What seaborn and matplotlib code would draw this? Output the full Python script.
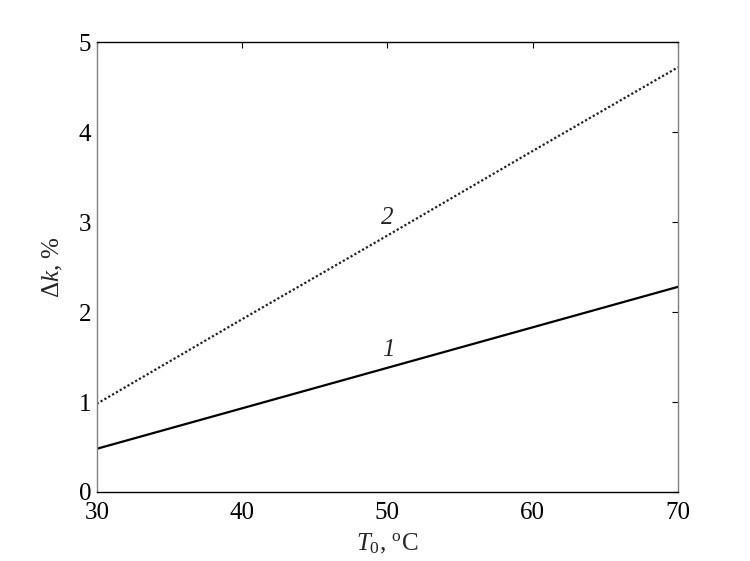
import matplotlib
matplotlib.use("Agg")
import matplotlib.pyplot as plt
import seaborn as sns
import pandas as pd

# values
temps = [30, 40, 50, 60, 70]
dk_curve1 = [0.48, 0.93, 1.38, 1.83, 2.28]
dk_curve2 = [0.98, 1.92, 2.85, 3.79, 4.72]
curve_names = ["1", "2"]
x_ticks = [30, 40, 50, 60, 70]
y_ticks = [0, 1, 2, 3, 4, 5]

df = pd.DataFrame({
    "T0": temps * 2,
    "dk": dk_curve1 + dk_curve2,
    "curve": [curve_names[0]] * len(temps) + [curve_names[1]] * len(temps),
})

sns.set_theme(style="white")
plt.rcParams["font.family"] = ["Liberation Serif", "DejaVu Serif"]
plt.rcParams["mathtext.fontset"] = "custom"
plt.rcParams["mathtext.rm"] = "Liberation Serif"
plt.rcParams["mathtext.it"] = "Liberation Serif:italic"

fig = plt.figure(figsize=(7.5, 5.61), dpi=100)
ax = fig.add_axes([0.129, 0.123, 0.775, 0.802])

sns.lineplot(data=df, x="T0", y="dk", hue="curve", style="curve",
             palette=["black", "#222222"], dashes={"1": "", "2": (1, 1)},
             linewidth=1.6, legend=False, ax=ax)

ax.text(50.1, 1.58, curve_names[0], fontsize=18, style="italic",
        ha="center", va="center")
ax.text(50.0, 3.04, curve_names[1], fontsize=18, style="italic",
        ha="center", va="center")

ax.set_xlim(30, 70)
ax.set_ylim(0, 5)
ax.set_xticks(x_ticks)
ax.set_yticks(y_ticks)
ax.tick_params(direction="in", length=4, width=0.8, top=True, right=True,
               labelsize=18, colors="black")
ax.tick_params(axis="x", pad=7)
ax.tick_params(axis="y", pad=4)
ax.set_xlabel(r"$T_{\rm 0}$, $^{\rm o}$C", fontsize=18, labelpad=6)
ax.set_ylabel(r"$\Delta k$, %", fontsize=18, labelpad=10)

for side in ["left", "right"]:
    ax.spines[side].set_color("#808080")
    ax.spines[side].set_linewidth(1.0)
for side in ["top", "bottom"]:
    ax.spines[side].set_color("black")
    ax.spines[side].set_linewidth(1.0)

fig.savefig("out.png", dpi=100, facecolor="white")
